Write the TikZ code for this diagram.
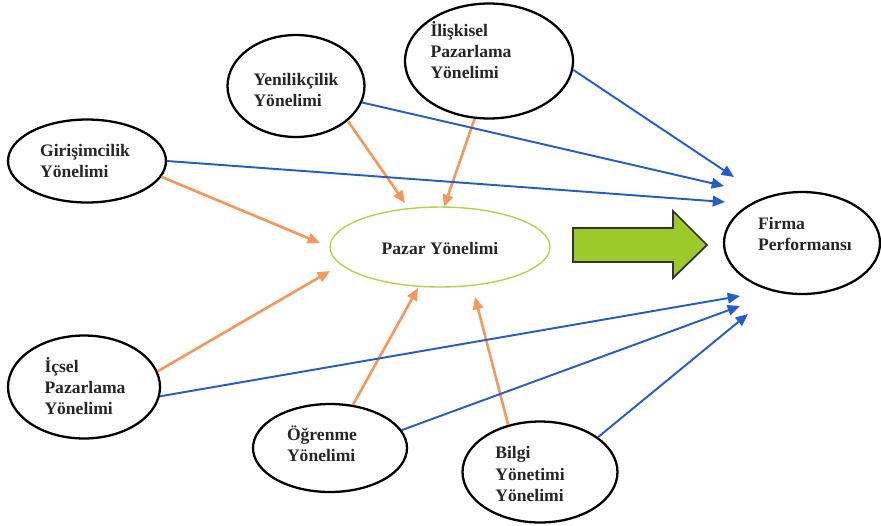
\documentclass[tikz,border=0pt]{standalone}
\usepackage{fontspec}
\setmainfont{Liberation Serif}
\usetikzlibrary{shapes.geometric,arrows.meta}
\definecolor{orarrow}{RGB}{246,152,92}
\definecolor{blarrow}{RGB}{38,92,200}
\definecolor{grfill}{RGB}{156,202,42}
\definecolor{grline}{RGB}{175,212,70}
\tikzset{
  oval/.style={ellipse, draw=black, line width=1.3pt, inner sep=0pt},
  lbl/.style={font=\fontsize{10}{12}\selectfont\bfseries, align=left, inner sep=0pt, text=black!85},
  orange arrow/.style={draw=orarrow, line width=1.5pt, -{Triangle[length=7pt,width=6pt]}},
  blue arrow/.style={draw=blarrow, line width=1.1pt, -{Triangle[length=7pt,width=6pt]}}
}
\begin{document}
\begin{tikzpicture}[x=0.02cm, y=-0.02cm]
\useasboundingbox (0,0) rectangle (881,525);
% ellipses (sizes in px * 0.02cm)
\node[oval, minimum width=3.16cm, minimum height=1.66cm] (gir) at (87,161) {};
\node[oval, minimum width=2.74cm, minimum height=2.04cm] (yen) at (296,86) {};
\node[oval, minimum width=3.36cm, minimum height=2.30cm] (ilis) at (489,61) {};
\node[ellipse, draw=grline, line width=0.8pt, inner sep=0pt, minimum width=4.40cm, minimum height=1.60cm] (pazar) at (440,247) {};
\node[oval, minimum width=3.12cm, minimum height=2.04cm] (firma) at (802,243) {};
\node[oval, minimum width=3.04cm, minimum height=2.06cm] (icsel) at (84,387) {};
\node[oval, minimum width=3.08cm, minimum height=1.76cm] (ogr) at (330,448) {};
\node[oval, minimum width=3.10cm, minimum height=2.02cm] (bilgi) at (540,472) {};
% texts
\node[lbl] (tgir) at (85,161) {Girişimcilik\\Yönelimi};
\node[lbl] (tyen) at (296,90) {Yenilikçilik\\Yönelimi};
\node[lbl] (tilis) at (471,50) {İlişkisel\\Pazarlama\\Yönelimi};
\node[lbl] (tfirma) at (805,234) {Firma\\Performansı};
\node[lbl] (tpazar) at (440,248) {Pazar Yönelimi};
\node[lbl] (ticsel) at (85,386) {İçsel\\Pazarlama\\Yönelimi};
\node[lbl] (togr) at (322,444) {Öğrenme\\Yönelimi};
\node[lbl] (tbilgi) at (530,474) {Bilgi\\Yönetimi\\Yönelimi};
% big green arrow
\draw[fill=grfill, draw=black!80, line width=1pt, line join=miter]
  (573,228) -- (673,228) -- (673,211) -- (707,245) -- (673,278) -- (673,262) -- (573,262) -- cycle;
% arrow end points
\coordinate (pyen) at (405,203);
\coordinate (pgir) at (320,243);
\coordinate (pilis) at (444,207);
\coordinate (picsel) at (330,271);
\coordinate (pogr) at (418,288);
\coordinate (pbilgi) at (475,297);
\coordinate (fyen) at (724,186);
\coordinate (filis) at (734,177);
\coordinate (fgir) at (725,202);
\coordinate (ficsel) at (740,296);
\coordinate (fogr) at (740,306);
\coordinate (fbilgi) at (748,314);
% orange arrows
\draw[orange arrow] (yen.-34) -- (pyen);
\draw[orange arrow] (gir.-12) -- (pgir);
\draw[orange arrow] (ilis.-104) -- (pilis);
\draw[orange arrow] (icsel.12) -- (picsel);
\draw[orange arrow] (ogr.62) -- (pogr);
\draw[orange arrow] (bilgi.124) -- (pbilgi);
% blue arrows
\draw[blue arrow] (yen.-14) -- (fyen);
\draw[blue arrow] (ilis.-6) -- (filis);
\draw[blue arrow] (gir.0) -- (fgir);
\draw[blue arrow] (icsel.-7) -- (ficsel);
\draw[blue arrow] (ogr.14) -- (fogr);
\draw[blue arrow] (bilgi.31) -- (fbilgi);
\end{tikzpicture}
\end{document}
